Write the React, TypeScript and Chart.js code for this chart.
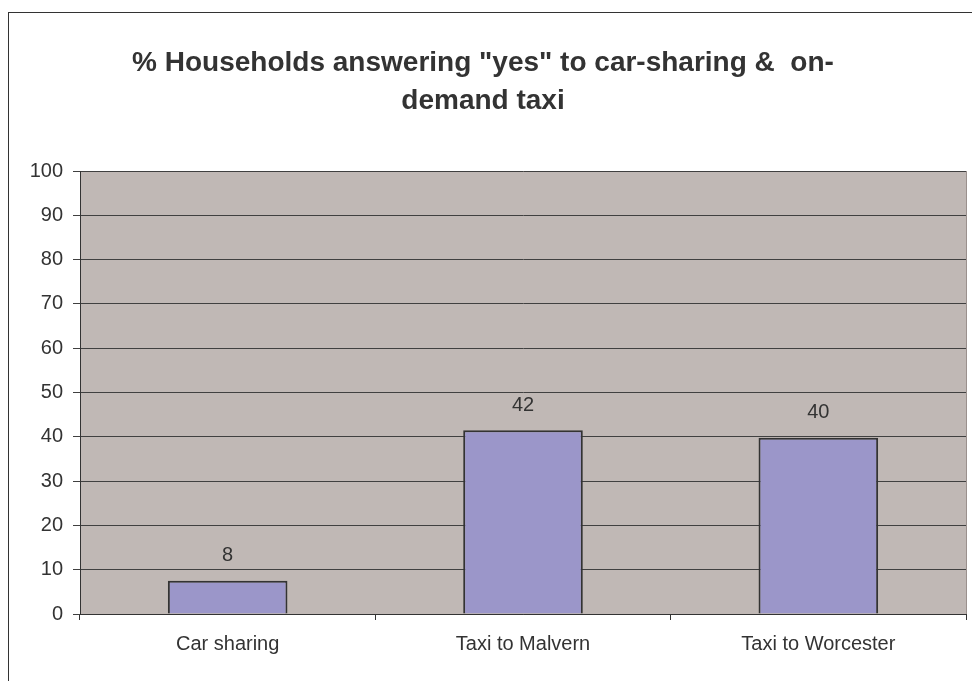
import React, { useEffect, useRef } from "react";
import { Chart, registerables } from "chart.js";

Chart.register(...registerables);

const categories = ["Car sharing", "Taxi to Malvern", "Taxi to Worcester"];
const values = [7.5, 41.5, 39.8];
const valueLabels = ["8", "42", "40"];
const titleLines = ['% Households answering "yes" to car-sharing &  on-', "demand taxi"];
const yMin = 0;
const yMax = 100;
const yStep = 10;

const FONT = "'Liberation Sans', Arial, sans-serif";

export default function App() {
  const ref = useRef<HTMLCanvasElement | null>(null);

  useEffect(() => {
    const canvas = ref.current;
    if (!canvas) return;

    const bgPlugin = {
      id: "bgPlugin",
      beforeDraw(chart: any) {
        const { ctx, chartArea } = chart;
        ctx.save();
        ctx.fillStyle = "#ffffff";
        ctx.fillRect(0, 0, chart.width, chart.height);
        ctx.strokeStyle = "#333333";
        ctx.lineWidth = 1;
        ctx.strokeRect(8.5, 12.5, chart.width + 20, chart.height + 20);
        ctx.fillStyle = "#c0b8b5";
        ctx.fillRect(chartArea.left, chartArea.top, chartArea.right - chartArea.left, chartArea.bottom - chartArea.top);
        ctx.strokeStyle = "#9a908d";
        ctx.beginPath();
        ctx.moveTo(chartArea.right + 0.5, chartArea.top);
        ctx.lineTo(chartArea.right + 0.5, chartArea.bottom);
        ctx.stroke();
        ctx.restore();
      },
    };

    const labelPlugin = {
      id: "labelPlugin",
      afterDatasetsDraw(chart: any) {
        const { ctx } = chart;
        const meta = chart.getDatasetMeta(0);
        ctx.save();
        ctx.font = `20px ${FONT}`;
        ctx.fillStyle = "#333333";
        ctx.textAlign = "center";
        ctx.textBaseline = "middle";
        meta.data.forEach((bar: any, i: number) => {
          ctx.fillText(valueLabels[i], bar.x, bar.y - 25);
        });
        ctx.restore();
      },
    };

    const chart = new Chart(canvas, {
      type: "bar",
      data: {
        labels: categories,
        datasets: [
          {
            data: values,
            backgroundColor: "#9b96c9",
            borderColor: "#333333",
            borderWidth: 2,
            barPercentage: 0.405,
            categoryPercentage: 1,
          },
        ],
      },
      options: {
        responsive: false,
        animation: false,
        devicePixelRatio: 1,
        layout: { padding: { left: 0, right: 6, top: 0, bottom: 17 } },
        plugins: {
          legend: { display: false },
          tooltip: { enabled: false },
          title: {
            display: true,
            text: titleLines,
            color: "#333333",
            font: { family: FONT, size: 28, weight: "bold", lineHeight: 38 / 28 },
            padding: { top: 44, bottom: 51 },
          },
        },
        scales: {
          x: {
            grid: {
              display: true,
              drawOnChartArea: false,
              offset: true,
              tickLength: 6,
              color: "#333333",
            },
            border: { color: "#333333", width: 1 },
            ticks: {
              color: "#333333",
              font: { family: FONT, size: 20 },
              padding: 12,
              maxRotation: 0,
            },
            afterFit(scale: any) {
              scale.height = 50;
            },
          },
          y: {
            min: yMin,
            max: yMax,
            grid: {
              color: "#404040",
              tickLength: 7,
              lineWidth: 1,
            },
            border: { color: "#333333", width: 1 },
            ticks: {
              stepSize: yStep,
              color: "#333333",
              font: { family: FONT, size: 20 },
              padding: 10,
            },
            afterFit(scale: any) {
              scale.width = 80;
            },
          },
        },
      },
      plugins: [bgPlugin, labelPlugin],
    });

    return () => chart.destroy();
  }, []);

  return (
    <div style={{ position: "fixed", left: 0, top: 0, width: 972, height: 681 }}>
      <canvas ref={ref} width={972} height={681} style={{ display: "block", width: 972, height: 681 }} />
    </div>
  );
}
